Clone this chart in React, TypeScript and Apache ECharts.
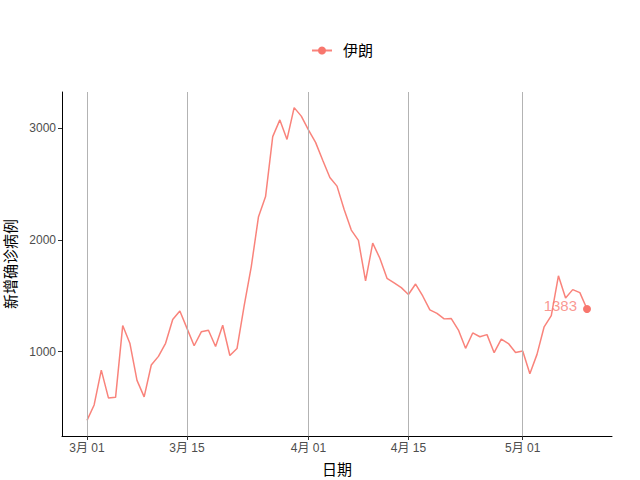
import React, { useEffect, useRef } from "react";
import * as echarts from "echarts";

const seriesName = "伊朗";
const startDate = "2020-03-01";
const newCases = [
  385, 523, 835, 586, 591, 1234, 1076, 743, 595, 881, 958, 1075, 1289, 1365,
  1209, 1053, 1178, 1192, 1046, 1237, 966, 1028, 1411, 1762, 2206, 2389, 2926,
  3076, 2901, 3186, 3110, 2987, 2875, 2715, 2560, 2483, 2274, 2089, 1997, 1634,
  1972, 1837, 1657, 1617, 1574, 1512, 1606, 1499, 1374, 1343, 1294, 1297, 1194,
  1030, 1168, 1134, 1153, 991, 1112, 1073, 993, 1006, 802, 976, 1223, 1323,
  1680, 1481, 1556, 1529, 1383,
];
const xTickDates = ["2020-03-01", "2020-03-15", "2020-04-01", "2020-04-15", "2020-05-01"];
const xTickLabels = ["3月 01", "3月 15", "4月 01", "4月 15", "5月 01"];
const yTicks = [1000, 2000, 3000];
const xTitle = "日期";
const yTitle = "新增确诊病例";

const DAY = 86400000;
const FONT = "'Liberation Sans', 'Noto Sans CJK SC', sans-serif";
const COLOR = "#F8766D";

export default function App() {
  const ref = useRef<HTMLDivElement>(null);
  useEffect(() => {
    if (!ref.current) return;
    const chart = echarts.init(ref.current, undefined, { renderer: "svg" });
    const t0 = Date.parse(startDate);
    const times = newCases.map((_, i) => t0 + i * DAY);
    const last = newCases.length - 1;
    const data = newCases.map((v, i) => [times[i], v]);
    const tickTs = xTickDates.map((d) => Date.parse(d));
    const xSpan = times[last] - times[0];
    const yMin = Math.min(...newCases);
    const yMax = Math.max(...newCases);
    const ySpan = yMax - yMin;

    chart.setOption({
      animation: false,
      backgroundColor: "#ffffff",
      textStyle: { fontFamily: FONT },
      legend: {
        top: 38,
        left: 306,
        data: [seriesName],
        itemWidth: 20,
        itemHeight: 10,
        itemGap: 10,
        textStyle: { fontSize: 15, color: "#000", fontFamily: FONT, padding: [0, 0, 0, 6] },
      },
      grid: { left: 62, right: 28, top: 92, bottom: 44, containLabel: false, outerBoundsMode: "none" },
      xAxis: {
        type: "value",
        min: times[0] - xSpan * 0.05,
        max: times[last] + xSpan * 0.05,
        name: xTitle,
        nameLocation: "middle",
        nameGap: 26,
        nameTextStyle: { fontSize: 15, color: "#000", fontFamily: FONT },
        axisLine: { show: true, lineStyle: { color: "#000", width: 1 } },
        axisTick: { show: true, length: 4, lineStyle: { color: "#333" }, customValues: tickTs },
        axisLabel: {
          customValues: tickTs,
          fontSize: 12,
          color: "#4d4d4d",
          margin: 6,
          formatter: (v: number) => {
            const i = tickTs.indexOf(v);
            return i >= 0 ? xTickLabels[i] : "";
          },
        },
        splitLine: { show: false },
      },
      yAxis: {
        type: "value",
        min: yMin - ySpan * 0.05,
        max: yMax + ySpan * 0.05,
        name: yTitle,
        nameLocation: "middle",
        nameRotate: 90,
        nameGap: 44,
        nameTextStyle: { fontSize: 15, color: "#000", fontFamily: FONT },
        axisLine: { show: true, lineStyle: { color: "#000", width: 1 } },
        axisTick: { show: true, length: 4, lineStyle: { color: "#333" }, customValues: yTicks },
        axisLabel: {
          customValues: yTicks,
          fontSize: 12,
          color: "#4d4d4d",
          margin: 6,
          formatter: (v: number) => String(v),
        },
        splitLine: { show: false },
      },
      series: [
        {
          type: "line",
          name: "__grid",
          data: [],
          z: 1,
          silent: true,
          markLine: {
            silent: true,
            symbol: "none",
            label: { show: false },
            lineStyle: { color: "#b3b3b3", width: 1, type: "solid" },
            data: tickTs.map((t) => ({ xAxis: t })),
          },
        },
        {
          type: "line",
          name: seriesName,
          z: 3,
          color: COLOR,
          lineStyle: { color: COLOR, width: 1.5, opacity: 0.9 },
          symbol: "circle",
          showSymbol: true,
          symbolSize: (_v: any, p: any) => (p && p.dataIndex === last ? 8 : 0),
          itemStyle: { color: COLOR },
          data: data.map((d, i) =>
            i === last
              ? {
                  value: d,
                  label: {
                    show: true,
                    position: "left",
                    distance: 6,
                    offset: [0, -3],
                    formatter: String(newCases[last]),
                    color: "rgba(248,118,109,0.75)",
                    fontSize: 15,
                    fontFamily: FONT,
                  },
                }
              : d
          ),
        },
      ],
    });
    return () => chart.dispose();
  }, []);
  return (
    <div
      ref={ref}
      style={{ position: "fixed", left: 0, top: 0, width: 640, height: 480, background: "#fff" }}
    />
  );
}
